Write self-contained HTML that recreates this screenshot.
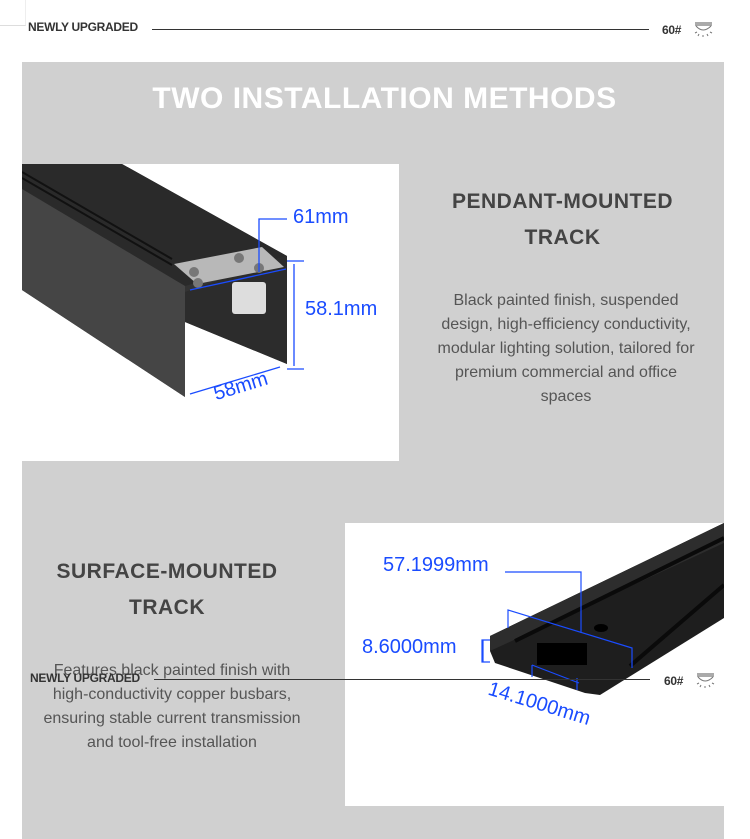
<!DOCTYPE html>
<html><head><meta charset="utf-8"><style>
*{margin:0;padding:0;box-sizing:border-box}
body{width:750px;height:839px;background:#fff;position:relative;overflow:hidden;font-family:"Liberation Sans",sans-serif}
.a{position:absolute}
.hdr{font-size:12px;font-weight:bold;color:#333;letter-spacing:-0.3px}
.h{font-size:21px;font-weight:bold;color:#444;text-align:center;line-height:36px;letter-spacing:0.5px}
.p{font-size:16px;color:#555;text-align:center;line-height:24px}
.dim{font-size:20px;color:#1a4cff}
</style></head><body>
<div class="a" style="left:0;top:0;width:26px;height:26px;border-right:1px solid #eee;border-bottom:1px solid #ddd"></div>
<div class="a hdr" style="left:28px;top:20px">NEWLY UPGRADED</div>
<div class="a" style="left:152px;top:29px;width:497px;height:1px;background:#333"></div>
<div class="a hdr" style="left:662px;top:23px">60#</div>
<svg class="a" style="left:693px;top:22px" width="22" height="16"><path d="M2 1h17M2 3h17" stroke="#777" stroke-width="1.2"/><path d="M3 4q7 8 15 0" stroke="#777" fill="none"/><path d="M6 12l-1 2M10 13v2M14 12l1 2M4 10l-2 1M17 10l2 1" stroke="#777"/></svg>

<div class="a" style="left:22px;top:62px;width:702px;height:777px;background:#d0d0d0"></div>
<div class="a" style="left:22px;top:82px;width:725px;text-align:center;font-size:30px;font-weight:bold;color:#fff;letter-spacing:0.5px">TWO INSTALLATION METHODS</div>

<div class="a" style="left:22px;top:164px;width:377px;height:297px;background:#fff"></div>
<svg class="a" style="left:22px;top:164px" width="377" height="297">
<polygon points="0,0 100,0 265,92 265,200 163,158 163,233 0,126" fill="#333"/>
<polygon points="0,0 100,0 265,92 163,122 0,25" fill="#2a2a2a"/>
<path d="M0 8L150 95M0 14L150 101" stroke="#111" stroke-width="2"/>
<polygon points="0,25 163,122 163,233 0,126" fill="#454545"/>
<polygon points="163,128 265,92 265,200 163,158" fill="#2c2c2c"/>
<polygon points="152,100 240,83 262,103 175,120" fill="#b8b8b8"/>
<rect x="210" y="118" width="34" height="32" rx="3" fill="#ddd"/>
<circle cx="172" cy="108" r="5" fill="#777"/><circle cx="176" cy="119" r="5" fill="#777"/><circle cx="217" cy="94" r="5" fill="#777"/><circle cx="237" cy="104" r="5" fill="#777"/>
<g stroke="#1a4cff" stroke-width="1.3" fill="none">
<path d="M237 108V55h28"/><line x1="168" y1="126" x2="264" y2="105"/>
<line x1="265" y1="97" x2="282" y2="97"/><line x1="265" y1="205" x2="282" y2="205"/><line x1="272" y1="100" x2="272" y2="202"/>
<line x1="168" y1="230" x2="258" y2="203"/>
</g>
</svg>
<div class="a dim" style="left:293px;top:206px">61mm</div>
<div class="a dim" style="left:305px;top:298px">58.1mm</div>
<div class="a dim" style="left:211px;top:384px;transform:rotate(-17deg);transform-origin:left top">58mm</div>

<div class="a h" style="left:405px;top:184px;width:315px">PENDANT-MOUNTED<br>TRACK</div>
<div class="a p" style="left:405px;top:289px;width:322px">Black painted finish, suspended<br>design, high-efficiency conductivity,<br>modular lighting solution, tailored for<br>premium commercial and office<br>spaces</div>

<div class="a" style="left:345px;top:523px;width:379px;height:283px;background:#fff"></div>
<svg class="a" style="left:345px;top:523px" width="379" height="283">
<polygon points="145,113 379,0 379,95 255,172 240,170 150,140 145,128" fill="#1e1e1e"/>
<polygon points="145,113 379,0 379,20 145,128" fill="#2d2d2d"/>
<path d="M170 118L379 15M285 143L379 62" stroke="#0a0a0a" stroke-width="4"/>
<rect x="192" y="120" width="50" height="22" fill="#000"/>
<ellipse cx="256" cy="105" rx="7" ry="4" fill="#000"/>
<g stroke="#1a4cff" fill="none" stroke-width="1.2">
<path d="M160 49h76v61"/><path d="M163 105v-18l124 38v20"/>
<path d="M145 117h-8v22h8M138 117v22"/>
<path d="M187 142l47 18M187 142v12M232 155v12"/>
</g>
</svg>
<div class="a dim" style="left:383px;top:554px">57.1999mm</div>
<div class="a dim" style="left:362px;top:636px">8.6000mm</div>
<div class="a dim" style="left:492px;top:678px;transform:rotate(17deg);transform-origin:left top">14.1000mm</div>

<div class="a h" style="left:22px;top:554px;width:290px">SURFACE-MOUNTED<br>TRACK</div>
<div class="a p" style="left:22px;top:659px;width:300px">Features black painted finish with<br>high-conductivity copper busbars,<br>ensuring stable current transmission<br>and tool-free installation</div>

<div class="a hdr" style="left:30px;top:671px">NEWLY UPGRADED</div>
<div class="a" style="left:154px;top:679px;width:496px;height:1px;background:#333"></div>
<div class="a hdr" style="left:664px;top:674px">60#</div>
<svg class="a" style="left:695px;top:673px" width="22" height="16"><path d="M2 1h17M2 3h17" stroke="#777" stroke-width="1.2"/><path d="M3 4q7 8 15 0" stroke="#777" fill="none"/><path d="M6 12l-1 2M10 13v2M14 12l1 2M4 10l-2 1M17 10l2 1" stroke="#777"/></svg>
</body></html>
